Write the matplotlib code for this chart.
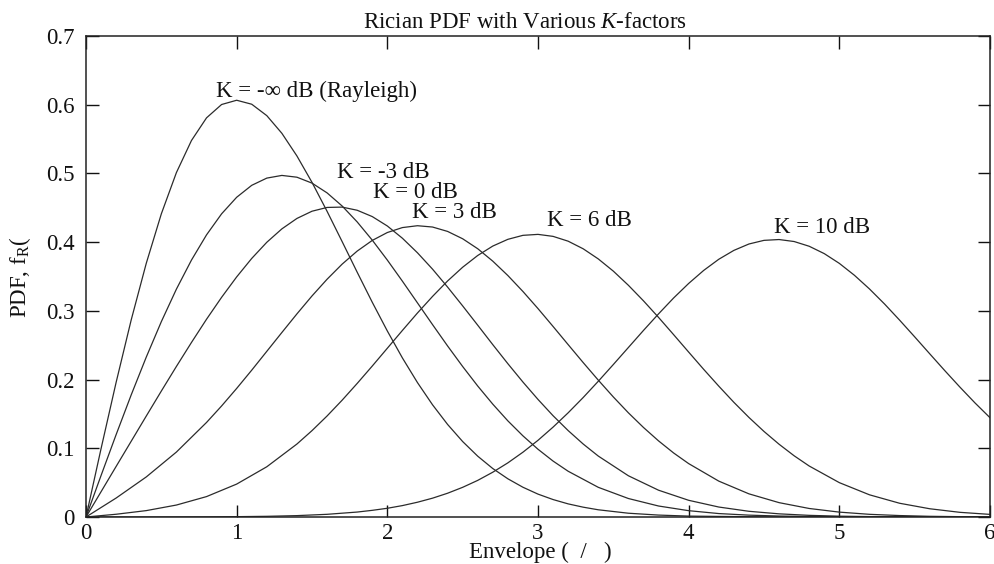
import matplotlib
matplotlib.use('Agg')
import matplotlib.pyplot as plt

plt.rcParams['font.family'] = ['Liberation Serif', 'DejaVu Serif']
plt.rcParams['mathtext.fontset'] = 'custom'
plt.rcParams['mathtext.rm'] = 'Liberation Serif'
plt.rcParams['mathtext.it'] = 'Liberation Serif:italic'

# ---- data ----
ray_x = [0, 0.1, 0.2, 0.3, 0.4, 0.5, 0.6, 0.7, 0.8, 0.9, 1.0, 1.1, 1.2, 1.3, 1.4,
         1.5, 1.6, 1.7, 1.8, 1.9, 2.0, 2.1, 2.2, 2.3, 2.4, 2.5, 2.6,
         2.7, 2.8, 2.9, 3.0, 3.1, 3.2, 3.3,
         3.4, 3.6, 3.8, 4.0, 4.5, 5.0, 6.0]
ray_y = [0, .0995, .1960, .2868, .3692, .4412, .5012, .5479, .5809, .6003, .6065,
         .6007, .5841, .5584, .5254, .4870, .4449, .4008, .3562, .3125, .2707,
         .2315, .1956, .1633, .1347, .1098, .0885,
         .0705, .0556, .0433, .0333, .0254, .0191, .0143,
         .0105, .0055, .0028, .0013, .0002, .0000, .0000]

km3_x = [0, 0.1, 0.2, 0.3, 0.4, 0.5, 0.6, 0.7, 0.8, 0.9, 1.0, 1.1, 1.2, 1.3, 1.4,
         1.5, 1.6, 1.7, 1.8, 1.9, 2.0, 2.1, 2.2, 2.3, 2.4, 2.5, 2.6, 2.7, 2.8,
         2.9, 3.0, 3.1, 3.2,
         3.4, 3.6, 3.8, 4.0, 4.2, 4.4, 4.6, 4.8, 5.0, 5.2, 5.4, 5.6, 5.8, 6.0]
km3_y = [0, .0604, .1199, .1777, .2327, .2843, .3316, .3739, .4106, .4412, .4653,
         .4827, .4932, .4971, .4945, .4859, .4717, .4526, .4294, .4029, .3739,
         .3432, .3116, .2800, .2489, .2190, .1906, .1642, .1399, .1181, .0986,
         .0814, .0666,
         .0432, .0269, .0160, .0092, .0050, .0027, .0014, .0007, .0003, .0001,
         0, 0, 0, 0]

k0_x = [0, 0.2, 0.4,
        0.5, 0.6, 0.7, 0.8, 0.9, 1.0, 1.1, 1.2, 1.3, 1.4, 1.5, 1.6, 1.7, 1.8,
        1.9, 2.0, 2.1, 2.2, 2.3, 2.4, 2.5, 2.6, 2.7, 2.8, 2.9, 3.0, 3.1, 3.2,
        3.3, 3.4,
        3.6, 3.8, 4.0, 4.2, 4.4, 4.6, 4.8, 5.0, 5.2, 5.4, 5.6, 5.8, 6.0]
k0_y = [0, .0736, .1469,
        .1833, .2191, .2540, .2878, .3197, .3494, .3763, .3998, .4193, .4345,
        .4450, .4505, .4510, .4464, .4372, .4235, .4057, .3845, .3607, .3346,
        .3072, .2791, .2508, .2231, .1964, .1711, .1474, .1258, .1062, .0887,
        .0600, .0390, .0243, .0145, .0083, .0046, .0024, .0012, .0006, .0003,
        .0001, .0001, 0]

k3_x = [0, 0.2, 0.4, 0.6,
        0.8, 0.9, 1.0, 1.1, 1.2, 1.3, 1.4, 1.5, 1.6, 1.7, 1.8, 1.9, 2.0, 2.1,
        2.2, 2.3, 2.4, 2.5, 2.6, 2.7, 2.8, 2.9, 3.0, 3.1, 3.2, 3.3, 3.4, 3.5,
        3.6, 3.7, 3.8, 3.9, 4.0,
        4.2, 4.4, 4.6, 4.8, 5.0, 5.2, 5.4, 5.6, 5.8, 6.0]
k3_y = [0, .0276, .0583, .0945,
        .1376, .1616, .1871, .2137, .2411, .2685, .2956, .3217, .3460, .3680,
        .3870, .4025, .4140, .4212, .4239, .4220, .4156, .4049, .3904, .3723,
        .3514, .3282, .3033, .2773, .2509, .2247, .1992, .1747, .1516, .1303,
        .1108, .0932, .0777,
        .0522, .0337, .0209, .0124, .0071, .0039, .0021, .0010, .0005, .0002]

k6_x = [0, 0.2, 0.4, 0.6, 0.8, 1.0, 1.2, 1.4,
        1.5, 1.6, 1.7, 1.8, 1.9, 2.0, 2.1, 2.2, 2.3, 2.4, 2.5, 2.6, 2.7, 2.8,
        2.9, 3.0, 3.1, 3.2, 3.3, 3.4, 3.5, 3.6, 3.7, 3.8, 3.9, 4.0, 4.1, 4.2,
        4.3, 4.4, 4.5, 4.6, 4.7, 4.8,
        5.0, 5.2, 5.4, 5.6, 5.8, 6.0]
k6_y = [0, .0040, .0093, .0174, .0297, .0479, .0731, .1062,
        .1257, .1470, .1700, .1944, .2197, .2456, .2715, .2969, .3210, .3435,
        .3635, .3806, .3943, .4041, .4099, .4113, .4084, .4014, .3903, .3756,
        .3578, .3372, .3146, .2905, .2654, .2400, .2148, .1904, .1669, .1449,
        .1245, .1059, .0891, .0742,
        .0500, .0323, .0200, .0120, .0068, .0038]

k10_x = [0, 0.2, 0.4, 0.6, 0.8, 1.0, 1.2, 1.4, 1.6, 1.8,
         1.9, 2.0, 2.1, 2.2, 2.3, 2.4, 2.5, 2.6, 2.7, 2.8, 2.9, 3.0, 3.1, 3.2,
         3.3, 3.4, 3.5, 3.6, 3.7, 3.8, 3.9, 4.0, 4.1, 4.2, 4.3, 4.4, 4.5, 4.6,
         4.7, 4.8, 4.9, 5.0, 5.1, 5.2, 5.3, 5.4, 5.5, 5.6, 5.7, 5.8, 5.9, 6.0]
k10_y = [0, .0000, .0000, .0001, .0002, .0005, .0010, .0020, .0039, .0072,
         .0097, .0127, .0166, .0215, .0274, .0346, .0432, .0533, .0652, .0788,
         .0943, .1116, .1308, .1516, .1739, .1975, .2219, .2467, .2715, .2956,
         .3187, .3399, .3589, .3751, .3880, .3973, .4026, .4038, .4009, .3940,
         .3833, .3691, .3518, .3319, .3100, .2865, .2622, .2375, .2130, .1891,
         .1661, .1445]

curve_labels = ['K = -\u221e dB (Rayleigh)', 'K = -3 dB', 'K = 0 dB',
                'K = 3 dB', 'K = 6 dB', 'K = 10 dB']
label_pos = [(1.528, 0.6114), (1.970, 0.4934), (2.189, 0.4643),
             (2.445, 0.4352), (3.342, 0.4236), (4.887, 0.4134)]

x_ticks = [0, 1, 2, 3, 4, 5, 6]
x_ticklabels = ['0', '1', '2', '3', '4', '5', '6']
y_ticks = [0, 0.1, 0.2, 0.3, 0.4, 0.5, 0.6, 0.7]
y_ticklabels = ['0', '0.1', '0.2', '0.3', '0.4', '0.5', '0.6', '0.7']

# ---- figure ----
fig = plt.figure(figsize=(9.95, 5.64), dpi=100)
ax = fig.add_axes([86 / 995, 47 / 564, 904 / 995, 481 / 564])

series = [(ray_x, ray_y), (km3_x, km3_y), (k0_x, k0_y), (k3_x, k3_y),
          (k6_x, k6_y), (k10_x, k10_y)]
for xs, ys in series:
    ax.plot(xs, ys, color='#2b2b2b', lw=0.9, solid_joinstyle='round')

fs = 16.5
for txt, (tx, ty) in zip(curve_labels, label_pos):
    ax.text(tx, ty, txt, ha='center', va='baseline', fontsize=fs, color='#111111')

ax.set_xlim(0, 6)
ax.set_ylim(0, 0.7)
ax.set_xticks(x_ticks)
ax.set_xticklabels(x_ticklabels)
ax.set_yticks(y_ticks)
ax.set_yticklabels(y_ticklabels)
ax.tick_params(axis='both', direction='in', length=9, width=1.0, top=True, right=True,
               labelsize=fs, colors='#111111')
ax.tick_params(axis='y', pad=8)
ax.tick_params(axis='x', pad=4)
for sp in ax.spines.values():
    sp.set_linewidth(1.1)
    sp.set_color('#222222')

fig.text(524.5 / 995, 1 - 28 / 564, r'Rician PDF with Various $K$-factors',
         ha='center', va='baseline', fontsize=fs, color='#111111')
fig.text(540 / 995, 1 - 558 / 564, 'Envelope (  /   )',
         ha='center', va='baseline', fontsize=fs, color='#111111')
fig.text(20 / 995, 1 - 277 / 564, r'PDF, f$_{\rm R}$(',
         ha='center', va='center', rotation=90, fontsize=fs, color='#111111')

fig.savefig('out.png', dpi=100)
